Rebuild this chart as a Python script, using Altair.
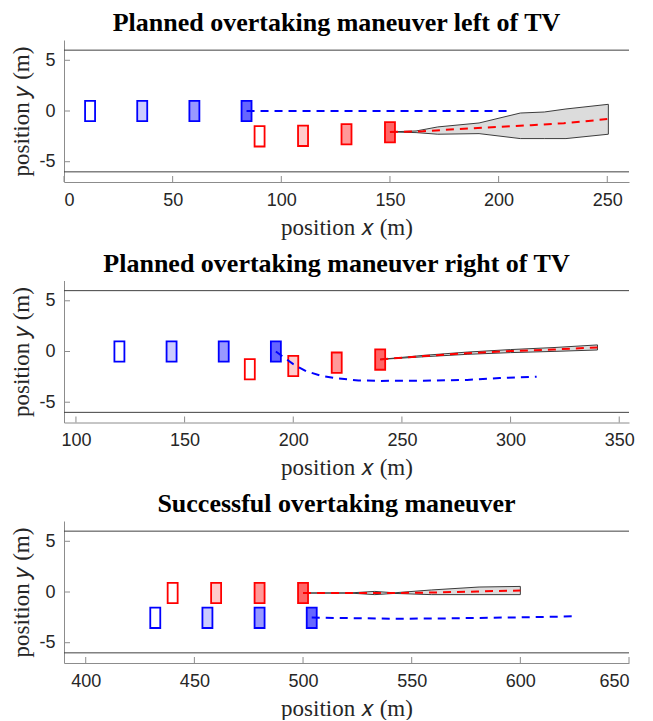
import altair as alt
import pandas as pd

# ---------------- data ----------------
# Panel 1
p1_title = "Planned overtaking maneuver left of TV"
p1_xdom = [0, 260]
p1_xticks = [0, 50, 100, 150, 200, 250]
p1_blue_x = [12, 36, 60, 84]
p1_blue_y = [0, 0, 0, 0]
p1_red_x = [90, 110, 130, 150]
p1_red_y = [-2.5, -2.45, -2.3, -2.1]
p1_bpath_x = [84, 204]
p1_bpath_y = [0, 0]
p1_rpath_x = [150, 165, 180, 200, 215, 230, 250]
p1_rpath_y = [-2.07, -2.0, -1.8, -1.57, -1.4, -1.2, -0.8]
p1_area_x = [150, 162, 172, 191, 210, 221, 231, 250.5]
p1_area_hi = [-2.06, -1.97, -1.57, -1.18, -0.2, -0.1, 0.2, 0.66]
p1_area_lo = [-2.06, -2.13, -2.29, -2.23, -2.72, -2.72, -2.72, -2.29]

# Panel 2
p2_title = "Planned overtaking maneuver right of TV"
p2_xdom = [94.5, 354.5]
p2_xticks = [100, 150, 200, 250, 300, 350]
p2_blue_x = [120, 144, 168, 192]
p2_blue_y = [0, 0, 0, 0]
p2_red_x = [180, 200, 220, 240]
p2_red_y = [-1.75, -1.43, -1.1, -0.8]
p2_bpath_x = [192, 200, 206, 213, 220, 230, 240, 260, 280, 295, 312]
p2_bpath_y = [0, -1.25, -1.95, -2.4, -2.65, -2.85, -2.9, -2.88, -2.8, -2.62, -2.48]
p2_rpath_x = [240, 260, 280, 300, 320, 340]
p2_rpath_y = [-0.78, -0.45, -0.17, 0.04, 0.2, 0.4]
p2_area_x = [240, 260, 280, 300, 320, 340]
p2_area_hi = [-0.78, -0.38, -0.06, 0.19, 0.39, 0.65]
p2_area_lo = [-0.78, -0.52, -0.28, -0.11, 0.01, 0.15]

# Panel 3
p3_title = "Successful overtaking maneuver"
p3_xdom = [390, 650]
p3_xticks = [400, 450, 500, 550, 600, 650]
p3_blue_x = [432, 456, 480, 504]
p3_blue_y = [-2.55, -2.55, -2.55, -2.55]
p3_red_x = [440, 460, 480, 500]
p3_red_y = [-0.1, -0.1, -0.1, -0.1]
p3_bpath_x = [504, 520, 540, 560, 580, 600, 624]
p3_bpath_y = [-2.52, -2.57, -2.63, -2.62, -2.56, -2.5, -2.4]
p3_rpath_x = [500, 520, 540, 560, 580, 600]
p3_rpath_y = [-0.1, -0.1, -0.1, -0.05, 0.05, 0.15]
p3_area_x = [500, 521, 533, 542, 559, 581, 600]
p3_area_hi = [-0.1, -0.1, 0.06, -0.08, 0.2, 0.49, 0.55]
p3_area_lo = [-0.1, -0.1, -0.26, -0.14, -0.26, -0.26, -0.26]

road_y = [6, -6]
y_ticks = [-5, 0, 5]
car_len = 4.6
car_wid = 2.0

x_title = "position \U0001D465 (m)"
y_title = "position \U0001D466 (m)"

# ---------------- styling ----------------
W, H = 565, 142
SERIF = "Liberation Serif"
SANS = "Liberation Sans"
AXIS_GRAY = "#8c8c8c"
VEH_DOMAIN = ["EV", "TV"]
VEH_RANGE = ["#0000ff", "#ff0000"]
HYPHEN_LABEL = "datum.value < 0 ? '-' + (-datum.value) : '' + datum.value"


def panel(title, xdom, xticks, bx, by, rx, ry, bpx, bpy, rpx, rpy, ax, ahi, alo):
    xs = alt.Scale(domain=xdom, nice=False, zero=False)
    ys = alt.Scale(domain=[-7, 7], nice=False, zero=False)
    xaxis = alt.Axis(values=xticks, title=x_title, ticks=False, grid=False,
                     labelPadding=9, titlePadding=7, titleFontSize=23)
    yaxis = alt.Axis(values=y_ticks, title=y_title, ticks=False, grid=False,
                     labelPadding=9, titlePadding=5, titleFontSize=23, minExtent=0,
                     labelExpr=HYPHEN_LABEL)

    rows = []
    for i, (x, y) in enumerate(zip(bx, by)):
        rows.append(dict(veh="EV", step=i, x1=x - car_len / 2, x2=x + car_len / 2,
                         y1=y - car_wid / 2, y2=y + car_wid / 2))
    for i, (x, y) in enumerate(zip(rx, ry)):
        rows.append(dict(veh="TV", step=i, x1=x - car_len / 2, x2=x + car_len / 2,
                         y1=y - car_wid / 2, y2=y + car_wid / 2))
    boxes = pd.DataFrame(rows)

    paths = pd.DataFrame(
        [dict(veh="EV", i=i, x=x, y=y) for i, (x, y) in enumerate(zip(bpx, bpy))] +
        [dict(veh="TV", i=i, x=x, y=y) for i, (x, y) in enumerate(zip(rpx, rpy))]
    )
    area = pd.DataFrame(dict(x=ax, hi=ahi, lo=alo))
    outline = pd.DataFrame(
        [dict(i=i, x=x, y=y) for i, (x, y) in enumerate(zip(ax, ahi))] +
        [dict(i=len(ax) + i, x=x, y=y) for i, (x, y) in enumerate(zip(ax[::-1], alo[::-1]))]
    )

    base_x = alt.X("x:Q", scale=xs, axis=xaxis)

    road = alt.Chart(pd.DataFrame(dict(y=road_y))).mark_rule(
        color="#404040", strokeWidth=1).encode(
        y=alt.Y("y:Q", scale=ys, axis=yaxis), x=alt.value(0), x2=alt.value(W))

    xt = alt.Chart(pd.DataFrame(dict(x=xticks))).mark_rule(
        color=AXIS_GRAY, strokeWidth=1).encode(
        x=base_x, y=alt.value(H), y2=alt.value(H - 6))
    yt = alt.Chart(pd.DataFrame(dict(y=y_ticks))).mark_rule(
        color=AXIS_GRAY, strokeWidth=1).encode(
        y=alt.Y("y:Q", scale=ys), x=alt.value(0), x2=alt.value(6))

    vscale = alt.Scale(domain=VEH_DOMAIN, range=VEH_RANGE)
    rectfill = alt.Chart(boxes).mark_rect(strokeWidth=0).encode(
        x=alt.X("x1:Q", scale=xs), x2="x2:Q",
        y=alt.Y("y1:Q", scale=ys), y2="y2:Q",
        fill=alt.Fill("veh:N", scale=vscale, legend=None),
        fillOpacity=alt.FillOpacity("step:Q", scale=alt.Scale(domain=[0, 3], range=[0, 0.6]), legend=None),
    )
    rectstroke = alt.Chart(boxes).mark_rect(strokeWidth=1.8, fillOpacity=0).encode(
        x=alt.X("x1:Q", scale=xs), x2="x2:Q",
        y=alt.Y("y1:Q", scale=ys), y2="y2:Q",
        stroke=alt.Stroke("veh:N", scale=vscale, legend=None),
    )

    shade = alt.Chart(area).mark_area(color="#dcdcdc", opacity=1).encode(
        x=alt.X("x:Q", scale=xs), y=alt.Y("lo:Q", scale=ys), y2="hi:Q")
    edge = alt.Chart(outline).mark_line(color="#3c3c3c", strokeWidth=1).encode(
        x=alt.X("x:Q", scale=xs), y=alt.Y("y:Q", scale=ys), order="i:Q")

    lines = alt.Chart(paths).mark_line(strokeWidth=2, strokeDash=[8, 6]).encode(
        x=alt.X("x:Q", scale=xs), y=alt.Y("y:Q", scale=ys),
        color=alt.Color("veh:N", scale=vscale, legend=None),
        detail="veh:N", order="i:Q")

    return alt.layer(
        alt.Chart(pd.DataFrame(dict(x=[xdom[0]]))).mark_point(opacity=0).encode(x=base_x),
        road, rectfill, rectstroke, shade, edge, lines, xt, yt,
    ).properties(
        width=W, height=H,
        title=alt.TitleParams(title, font=SERIF, fontSize=26, fontWeight="bold",
                              color="black", anchor="middle", frame="group", offset=4, dx=-10),
    )


c1 = panel(p1_title, p1_xdom, p1_xticks, p1_blue_x, p1_blue_y, p1_red_x, p1_red_y,
           p1_bpath_x, p1_bpath_y, p1_rpath_x, p1_rpath_y, p1_area_x, p1_area_hi, p1_area_lo)
c2 = panel(p2_title, p2_xdom, p2_xticks, p2_blue_x, p2_blue_y, p2_red_x, p2_red_y,
           p2_bpath_x, p2_bpath_y, p2_rpath_x, p2_rpath_y, p2_area_x, p2_area_hi, p2_area_lo)
c3 = panel(p3_title, p3_xdom, p3_xticks, p3_blue_x, p3_blue_y, p3_red_x, p3_red_y,
           p3_bpath_x, p3_bpath_y, p3_rpath_x, p3_rpath_y, p3_area_x, p3_area_hi, p3_area_lo)

chart = alt.vconcat(c1, c2, c3, spacing=11.5).resolve_scale(
    x="independent", y="independent", color="shared"
).properties(
    padding={"left": 2, "top": 2, "right": 0, "bottom": 0}
).configure_view(stroke=None).configure_axis(
    labelFont=SANS, labelFontSize=18, labelColor="#262626",
    titleFont=SERIF, titleFontWeight="normal", titleColor="#262626",
    domainColor=AXIS_GRAY, domainWidth=1,
)

chart.save("out.html", embed_options={"renderer": "svg", "actions": False})
